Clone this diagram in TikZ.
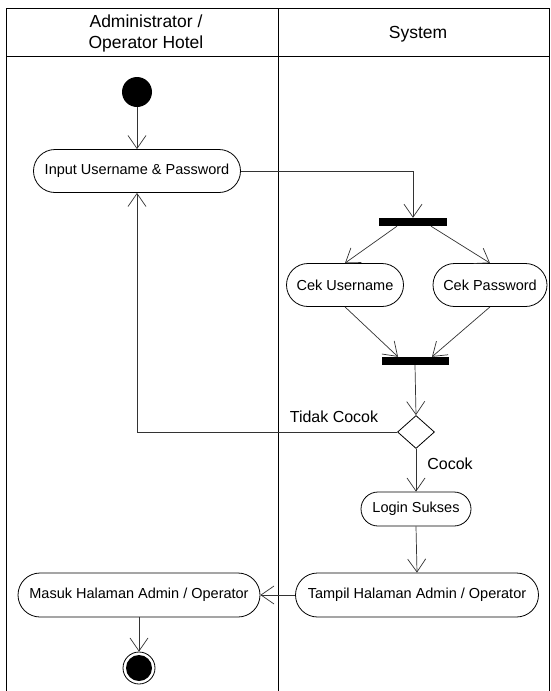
\documentclass[tikz,border=0pt]{standalone}
\usepackage{fontspec}
\setmainfont{Liberation Sans}
\usetikzlibrary{arrows.meta,shapes.misc,shapes.geometric}
\tikzset{
  action/.style={rounded rectangle, draw=black, line width=0.8pt, inner sep=0pt,
    font=\fontsize{14.5}{17}\selectfont},
  syncbar/.style={rectangle, fill=black, draw=none, inner sep=0pt},
  decision/.style={diamond, draw=black, line width=0.8pt, inner sep=0pt},
  startnode/.style={circle, fill=black, inner sep=0pt},
  flow/.style={draw=black!80, line width=0.7pt, -{Straight Barb[length=13pt,width=18pt]}},
  lane/.style={draw=black, line width=1pt},
  headtext/.style={font=\fontsize{17.5}{21}\selectfont, align=center},
  guardtext/.style={font=\fontsize{16}{19}\selectfont}
}
\begin{document}
\begin{tikzpicture}[x=1pt,y=-1pt]
\useasboundingbox (0,0) rectangle (550,691);
\fill[white] (0,0) rectangle (550,691);
% swimlanes
\draw[lane] (6,691) -- (6,8) -- (549,8) -- (549,691);
\draw[lane] (6,56) -- (549,56);
\draw[lane] (278,8) -- (278,691);
\node[headtext] (h1) at (146,33) {Administrator /\\Operator Hotel};
\node[headtext] (h2) at (418,34) {System};
% nodes
\node[startnode, minimum size=30pt] (start) at (137,92) {};
\node[action, minimum width=207pt, minimum height=43pt] (input) at (137,171) {Input Username \& Password};
\node[syncbar, minimum width=68pt, minimum height=8pt] (fork) at (413,222) {};
\node[action, minimum width=117pt, minimum height=43pt] (cku) at (345,285) {Cek Username};
\node[action, minimum width=114pt, minimum height=43pt] (ckp) at (490,285) {Cek Password};
\node[syncbar, minimum width=67pt, minimum height=8pt] (join) at (415,361) {};
\node[decision, minimum width=37pt, minimum height=33pt] (dec) at (416,432) {};
\node[action, minimum width=110pt, minimum height=34pt] (login) at (416,509) {Login Sukses};
\node[action, minimum width=243pt, minimum height=44pt] (tampil) at (417,595) {Tampil Halaman Admin / Operator};
\node[action, minimum width=242pt, minimum height=44pt] (masuk) at (139,595) {Masuk Halaman Admin / Operator};
\node[circle, draw=black, line width=0.8pt, fill=white, minimum size=32pt, inner sep=0pt] (final) at (139,668) {};
\node[startnode, minimum size=26pt] (finalin) at (final.center) {};
\node[guardtext] (lblno) at (334,417) {Tidak Cocok};
\node[guardtext] (lblyes) at (450,464) {Cocok};
% connectors
\draw[flow] (start) -- (input);
\draw[flow] (input.east) -| (fork.north);
\draw[flow] ([xshift=-16pt]fork.south) -- (cku.north);
\draw[flow] ([xshift=18pt]fork.south) -- (ckp.north);
\draw[flow] (cku.south) -- ([xshift=-17pt]join.north);
\draw[flow] (ckp.south) -- ([xshift=17pt]join.north);
\draw[flow] (join.south) -- (dec.north);
\draw[flow] (dec.west) -| (input.south);
\draw[flow] (dec.south) -- (login.north);
\draw[flow] (login.south) -- (tampil.north);
\draw[flow] (tampil.west) -- (masuk.east);
\draw[flow] (masuk.south) -- (final.north);
\end{tikzpicture}
\end{document}
